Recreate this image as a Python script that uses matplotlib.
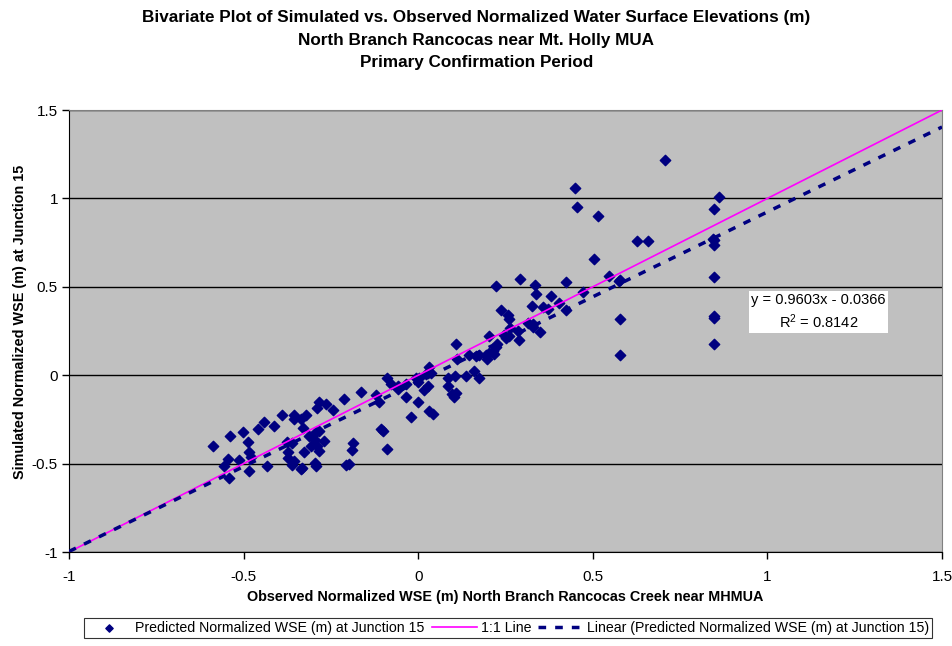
import numpy as np
import matplotlib
matplotlib.use('Agg')
import matplotlib.pyplot as plt

plt.rcParams['font.family'] = ['Liberation Sans', 'DejaVu Sans']

# observed / simulated normalized WSE (m)
obs = [-0.088, -0.078, -0.059, -0.035, -0.164, -0.121, -0.112, -0.212, -0.035, -0.284,
       -0.264, -0.289, -0.243, -0.391, -0.355, -0.355, -0.336, -0.322, -0.443, -0.413,
       -0.458, -0.501, -0.539, -0.330, -0.107, -0.102, -0.314, -0.293, -0.284, -0.486,
       -0.589, -0.376, -0.360, -0.296, -0.271, -0.307, -0.289, -0.284, -0.188, -0.190,
       -0.090, -0.484, -0.479, -0.372, -0.374, -0.327, -0.546, -0.556, -0.513, -0.355,
       -0.360, -0.296, -0.293, -0.434, -0.332, -0.336, -0.207, -0.198, -0.484, -0.542,
       0.224, 0.291, 0.334, 0.337, 0.423, 0.380, 0.326, 0.356, 0.373, 0.404,
       0.423, 0.237, 0.256, 0.259, 0.315, 0.328, 0.328, 0.349, 0.263, 0.285,
       0.246, 0.251, 0.261, 0.289, 0.203, 0.108, 0.227, 0.223, 0.213, 0.218,
       0.203, 0.194, 0.197, 0.175, 0.165, 0.146, 0.111, 0.160, 0.030, 0.027,
       0.022, 0.036, -0.007, 0.003, -0.002, 0.084, 0.106, 0.137, 0.175, 0.027,
       0.017, 0.084, 0.098, 0.108, 0.103, -0.002, 0.032, 0.043, -0.021, -0.059,
       0.449, 0.456, 0.514, 0.708, 0.860, 0.848, 0.626, 0.657, 0.843, 0.848,
       0.848, 0.502, 0.547, 0.848, 0.574, 0.579, 0.473, 0.578, 0.848, 0.848,
       0.578, 0.848]
sim = [-0.013, -0.051, -0.061, -0.051, -0.094, -0.113, -0.154, -0.136, -0.126, -0.154,
       -0.164, -0.183, -0.196, -0.225, -0.225, -0.245, -0.245, -0.225, -0.264, -0.287,
       -0.305, -0.324, -0.343, -0.296, -0.305, -0.315, -0.343, -0.324, -0.315, -0.377,
       -0.400, -0.377, -0.381, -0.368, -0.372, -0.400, -0.403, -0.428, -0.381, -0.423,
       -0.419, -0.434, -0.460, -0.434, -0.466, -0.437, -0.475, -0.513, -0.479, -0.488,
       -0.507, -0.499, -0.516, -0.513, -0.526, -0.532, -0.509, -0.503, -0.539, -0.584,
       0.505, 0.547, 0.509, 0.458, 0.528, 0.449, 0.389, 0.383, 0.377, 0.407,
       0.368, 0.368, 0.341, 0.317, 0.298, 0.288, 0.275, 0.247, 0.266, 0.251,
       0.226, 0.213, 0.219, 0.200, 0.219, 0.175, 0.175, 0.157, 0.137, 0.119,
       0.128, 0.113, 0.090, 0.113, 0.109, 0.113, 0.094, 0.024, 0.044, 0.015,
       0.006, 0.015, -0.013, -0.013, -0.041, -0.013, -0.004, -0.004, -0.013, -0.061,
       -0.085, -0.061, -0.107, -0.102, -0.123, -0.154, -0.202, -0.221, -0.234, -0.079,
       1.058, 0.949, 0.898, 1.218, 1.007, 0.939, 0.758, 0.758, 0.773, 0.765,
       0.735, 0.656, 0.562, 0.553, 0.533, 0.537, 0.468, 0.317, 0.335, 0.326,
       0.115, 0.175]

slope, intercept = 0.9603, -0.0366
line_x = [-1, 1.5]
ticks = [-1, -0.5, 0, 0.5, 1, 1.5]
tick_labels = ['-1', '-0.5', '0', '0.5', '1', '1.5']

fig = plt.figure(figsize=(9.53, 6.46), dpi=100)
ax = fig.add_axes([0.0724, 0.1455, 0.9161, 0.6842])
ax.set_facecolor('#C0C0C0')

ax.set_xlim(-1, 1.5)
ax.set_ylim(-1, 1.5)
ax.set_xticks(ticks)
ax.set_yticks(ticks)
ax.set_xticklabels(tick_labels)
ax.set_yticklabels(tick_labels)
ax.yaxis.grid(True, color='black', linewidth=1)
ax.set_axisbelow(True)
ax.tick_params(direction='out', length=5, labelsize=11, width=1)
ax.tick_params(axis='y', pad=3)
ax.tick_params(axis='x', pad=8)

for s in ['top', 'right']:
    ax.spines[s].set_color('#808080')
for s in ['left', 'bottom']:
    ax.spines[s].set_color('black')

pts = ax.scatter(obs, sim, marker='D', s=28, color='#000080', zorder=3,
                 label='Predicted Normalized WSE (m) at Junction 15')
l1, = ax.plot(line_x, line_x, color='#FF00FF', linewidth=1.2, zorder=4, label='1:1 Line')
fit_y = [slope * v + intercept for v in line_x]
l2, = ax.plot(line_x, fit_y, color='#000080', linewidth=2.5, linestyle=(0, (2.2, 2.6)), zorder=4,
              label='Linear (Predicted Normalized WSE (m) at Junction 15)')

ax.text(1.146, 0.356, 'y = 0.9603x - 0.0366\n$\\mathregular{R^2}$ = 0.8142', ha='center', va='center',
        fontsize=10.5, linespacing=1.35,
        bbox=dict(boxstyle='square,pad=0.15', facecolor='white', edgecolor='none'))

ax.set_xlabel('Observed Normalized WSE (m) North Branch Rancocas Creek near MHMUA',
              fontsize=10.4, fontweight='bold')
ax.xaxis.set_label_coords(0.5, -0.085)
ax.set_ylabel('Simulated Normalized WSE (m) at Junction 15', fontsize=10.4, fontweight='bold')
ax.yaxis.set_label_coords(-0.048, 0.52)

fig.text(0.5, 0.984, 'Bivariate Plot of Simulated vs. Observed Normalized Water Surface Elevations (m)\n'
         'North Branch Rancocas near Mt. Holly MUA\nPrimary Confirmation Period',
         ha='center', va='top', fontsize=12.3, fontweight='bold', linespacing=1.6)

leg = fig.legend(handles=[pts, l1, l2], loc='center', bbox_to_anchor=(0.533, 0.028), ncol=3,
                 fontsize=10.2, frameon=True, fancybox=False, edgecolor='black', handlelength=3.2,
                 columnspacing=0.5, handletextpad=0.25, borderpad=0.2, scatterpoints=1,
                 markerscale=0.7)
leg.get_frame().set_linewidth(0.8)

fig.savefig('out.png', dpi=100)
